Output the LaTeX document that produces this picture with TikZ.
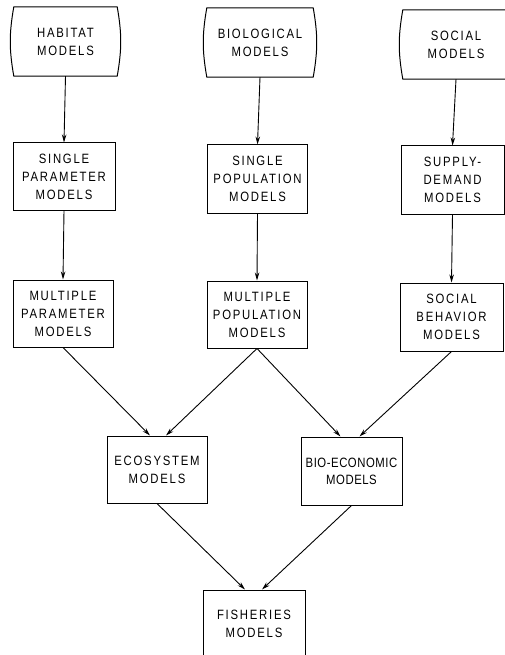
\documentclass[tikz,border=0pt]{standalone}
\usepackage{fontspec}
\setmainfont{Liberation Sans}
\newfontfamily\lblfont{Liberation Sans}[FakeStretch=0.84,LetterSpace=13]
\newfontfamily\lblfonttight{Liberation Sans}[FakeStretch=0.84,LetterSpace=4]
\usetikzlibrary{arrows.meta}
\begin{document}
\begin{tikzpicture}[x=1pt,y=-1pt,
  lbl/.style={font=\lblfont\fontsize{13.5}{18}\selectfont, align=center, inner sep=0pt},
  box/.style={lbl, draw, line width=1pt, minimum height=67pt},
  srcbox/.style={lbl, minimum height=69pt},
  srcline/.style={line width=1pt},
  conn/.style={line width=0.9pt, -{Stealth[length=8pt,width=4.5pt]}}
]
\useasboundingbox (0,0) rectangle (505,655);
\clip (0,0) rectangle (505,655);

% top source boxes (curved sides)
\node[srcbox, minimum width=103pt] (hab) at (65.5,41.5) {HABITAT\\MODELS};
\node[srcbox, minimum width=106pt] (bio) at (260,42.5) {BIOLOGICAL\\MODELS};
\node[srcbox, minimum width=106pt] (soc) at (456,44.5) {SOCIAL\\MODELS};
\foreach \n in {hab,bio,soc}
  \draw[srcline] (\n.north west) -- (\n.north east) to[bend left=10] (\n.south east)
    -- (\n.south west) to[bend left=10] (\n.north west) -- cycle;

% second row
\node[box, minimum width=102pt] (sp) at (64,176.5) {SINGLE\\PARAMETER\\MODELS};
\node[box, minimum width=100pt, minimum height=68pt] (spop) at (257.5,179) {SINGLE\\POPULATION\\MODELS};
\node[box, minimum width=103pt, minimum height=68pt] (sd) at (452.5,180) {SUPPLY-\\DEMAND\\MODELS};

% third row
\node[box, minimum width=100pt] (mp) at (63,313.5) {MULTIPLE\\PARAMETER\\MODELS};
\node[box, minimum width=100pt] (mpop) at (257,314.5) {MULTIPLE\\POPULATION\\MODELS};
\node[box, minimum width=103pt, minimum height=68pt] (sb) at (451.5,317) {SOCIAL\\BEHAVIOR\\MODELS};

% fourth row
\node[box, minimum width=100pt] (eco) at (157,469.5) {ECOSYSTEM\\MODELS};
\node[box, minimum width=101pt, minimum height=68pt, font=\lblfonttight\fontsize{13.5}{17}\selectfont] (bioec) at (351.5,471) {BIO-ECONOMIC\\MODELS};

% bottom
\node[box, minimum width=102pt] (fish) at (254,623.5) {FISHERIES\\MODELS};

% connectors
\draw[conn] (hab.south) -- (sp.north);
\draw[conn] (bio.south) -- (spop.north);
\draw[conn] (soc.south) -- (sd.north);
\draw[conn] (sp.south) -- (mp.north);
\draw[conn] (spop.south) -- (mpop.north);
\draw[conn] (sd.south) -- (sb.north);
\draw[conn] (mp.south) -- ([xshift=-7pt]eco.north);
\draw[conn] (mpop.south) -- ([xshift=9pt]eco.north);
\draw[conn] (mpop.south) -- ([xshift=-11pt]bioec.north);
\draw[conn] (sb.south) -- ([xshift=8pt]bioec.north);
\draw[conn] (eco.south) -- ([xshift=-9pt]fish.north);
\draw[conn] (bioec.south) -- ([xshift=8pt]fish.north);
\end{tikzpicture}
\end{document}
